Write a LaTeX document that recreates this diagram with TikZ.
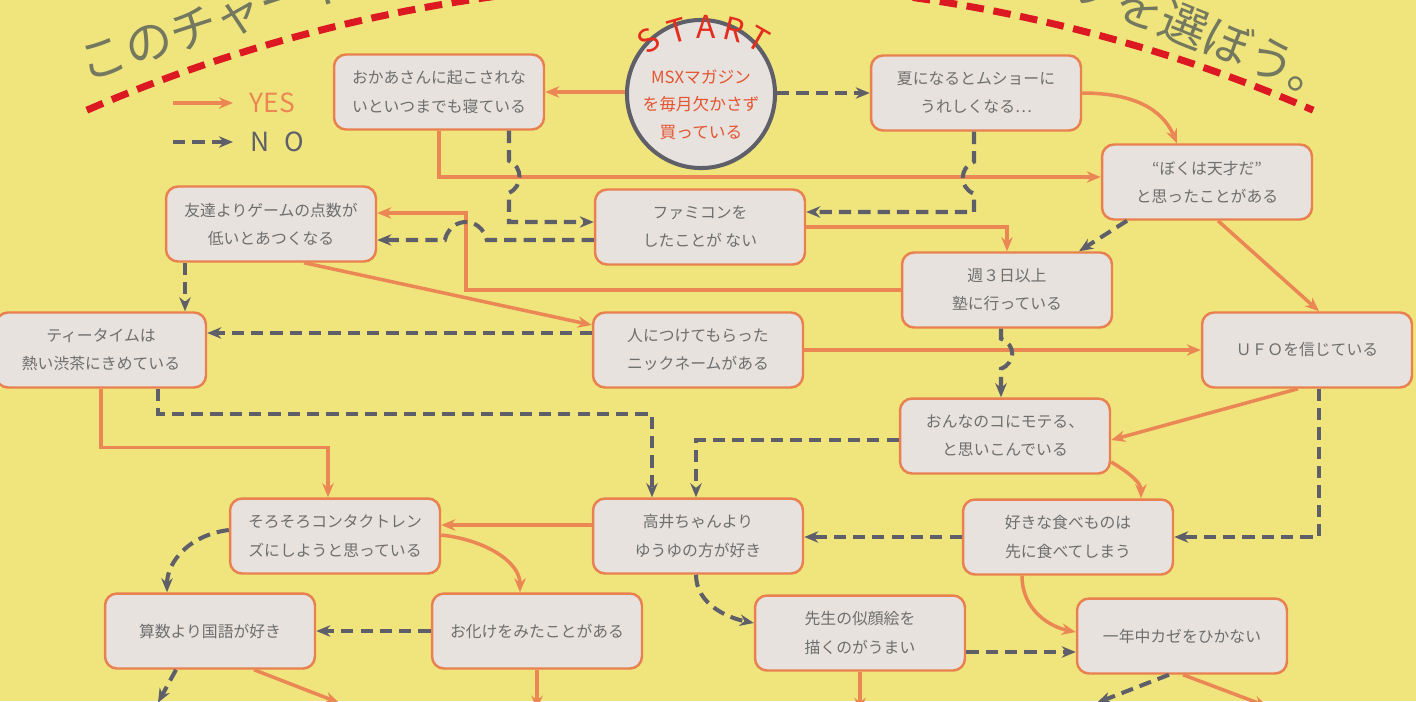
\documentclass[tikz,border=0pt]{standalone}
\usepackage{fontspec}
\setmainfont{Noto Sans CJK JP}
\usetikzlibrary{arrows.meta,calc}

\begin{document}
\begin{tikzpicture}[x=0.02cm, y=-0.02cm, >={Stealth[length=8pt, width=6.5pt]},
		box/.style={draw=boxline, line width=1.4pt, fill=boxfill, rounded corners=0.24cm, minimum width=4.2cm, minimum height=1.5cm, inner sep=2pt, align=center, text=boxtext, font=\fontsize{9}{16}\selectfont},
		startbox/.style={circle, draw=nocol, line width=2.3pt, fill=boxfill, minimum size=2.96cm, inner sep=0pt, align=center, text=circtext, font=\fontsize{9.5}{15.5}\selectfont},
		yes/.style={->, line width=2pt, draw=yescol},
		no/.style={->, line width=2.3pt, draw=nocol, dash pattern=on 7pt off 4pt},
		titletext/.style={text=titlecol, font=\fontsize{27}{27}\selectfont, inner sep=0pt},
		startchar/.style={text=startred, font=\fontsize{18}{18}\selectfont, inner sep=0pt},
		legendtext/.style={font=\fontsize{15}{15}\selectfont, inner sep=0pt, anchor=west, xshift=0.3cm}]
	\definecolor{bgcol}{RGB}{240,229,125}
	\definecolor{boxfill}{RGB}{231,226,221}
	\definecolor{boxline}{RGB}{232,128,80}
	\definecolor{boxtext}{RGB}{110,110,110}
	\definecolor{yescol}{RGB}{235,135,85}
	\definecolor{nocol}{RGB}{95,95,105}
	\definecolor{circtext}{RGB}{228,85,50}
	\definecolor{startred}{RGB}{228,45,30}
	\definecolor{redline}{RGB}{220,25,35}
	\definecolor{titlecol}{RGB}{115,120,95}
	\useasboundingbox (0,0) rectangle (1416,701);
	\clip (0,0) rectangle (1416,701);
	\fill[bgcol] (0,0) rectangle (1416,701);

	\draw[redline, line width=4pt, dash pattern=on 10pt off 5.5pt] plot[domain=-113.5:-66.5, samples=80] ({700+1537.9*cos(\x)}, {1520.5+1537.9*sin(\x)});
	\node[titletext, rotate=18] (titleleft) at (216,22) {このチャート};
	\node[titletext, rotate=-22] (titleright) at (1205,33) {ソを選ぼう。};

	\coordinate (yesleg) at (173,103);
	\coordinate (noleg) at (173,142);
	\draw[yes] (yesleg) -- ++(60,0) node[legendtext, text=yescol] (yeslabel) {YES};
	\draw[no] (noleg) -- ++(60,0) node[legendtext, text=nocol] (nolabel) {N\hspace{0.3cm}O};

	\node[startbox] (start) at (701,94) {\rule{0pt}{0.7cm}MSXマガジン\\を毎月欠かさず\\買っている};
	\foreach \ch/\x/\y/\a [count=\i] in {S/649/41/35, T/677/31/16, A/706/27/0, R/734/30/-14, T/758/39/-30}
		\node[startchar, rotate=\a] (st\i) at (\x,\y) {\ch};

	\node[box] (okaasan) at (439,92) {おかあさんに起こされな\\いといつまでも寝ている};
	\node[box] (natsu) at (976,93) {夏になるとムショーに\\うれしくなる…};
	\node[box] (tensai) at (1207,182) {“ぼくは天才だ”\\と思ったことがある};
	\node[box] (tomodachi) at (271,224) {友達よりゲームの点数が\\低いとあつくなる};
	\node[box] (famicom) at (700,227) {ファミコンを\\したことが ない};
	\node[box] (juku) at (1007,290) {週３日以上\\塾に行っている};
	\node[box] (nickname) at (698,350) {人につけてもらった\\ニックネームがある};
	\node[box] (teatime) at (101,350) {ティータイムは\\熱い渋茶にきめている};
	\node[box] (ufo) at (1307,350) {ＵＦＯを信じている};
	\node[box] (moteru) at (1005,436) {おんなのコにモテる、\\と思いこんでいる};
	\node[box] (contact) at (335,536) {そろそろコンタクトレン\\ズにしようと思っている};
	\node[box] (takai) at (698,536) {高井ちゃんより\\ゆうゆの方が好き};
	\node[box] (tabemono) at (1068,537) {好きな食べものは\\先に食べてしまう};
	\node[box] (sansu) at (210,631) {算数より国語が好き};
	\node[box] (obake) at (537,631) {お化けをみたことがある};
	\node[box] (nigaoe) at (860,633) {先生の似顔絵を\\描くのがうまい};
	\node[box] (kaze) at (1182,636) {一年中カゼをひかない};

	\draw[yes] (start.west |- okaasan.east) -- (okaasan.east);
	\draw[yes] (natsu.east) .. controls +(50,0) and +(-15,-35) .. ($(tensai.north)+(-30,0)$);
	\draw[yes] (okaasan.south) |- ($(tensai.west)+(0,-5)$);
	\draw[yes] (juku.west) -| ($(tomodachi.east)+(89,-11)$) -- ($(tomodachi.east)+(0,-11)$);
	\draw[yes] (famicom.east) -| (juku.north);
	\draw[yes] ($(tomodachi.south)+(33,0)$) -- ($(nickname.west)+(0,-25)$);
	\draw[yes] ($(tensai.south)+(11,0)$) -- ($(ufo.north)+(12,0)$);
	\draw[yes] (nickname.east) -- (ufo.west);
	\draw[yes] ($(ufo.south)+(-9,0)$) -- ($(moteru.east)+(0,4)$);
	\draw[yes] ($(moteru.east)+(0,26)$) .. controls +(20,12) and +(0,-15) .. ($(tabemono.north)+(73,0)$);
	\draw[yes] ($(takai.west)+(0,-11)$) -- ($(contact.east)+(0,-11)$);
	\draw[yes] ($(contact.east)+(0,-1)$) .. controls +(45,5) and +(0,-30) .. ($(obake.north)+(-17,0)$);
	\draw[yes] (teatime.south) -- ++(0,59) -| ($(contact.north)+(-7,0)$);
	\draw[yes] ($(tabemono.south)+(-46,0)$) .. controls +(0,35) and +(-25,-5) .. ($(kaze.west)+(0,-4)$);
	\draw[yes] ($(sansu.south)+(44,0)$) -- ++(85,33);
	\draw[yes] (obake.south) -- ++(0,40);
	\draw[yes] (nigaoe.south) -- ++(0,40);
	\draw[yes] ($(kaze.south)+(1,0)$) -- ++(85,32);

	\draw[no] (start.east |- natsu.west) -- (natsu.west);
	\draw[no] ($(okaasan.south)+(70,0)$) -- ++(0,30) .. controls +(14,6) and +(14,-6) .. ++(0,32) |- ($(famicom.west)+(0,-5)$);
	\draw[no] ($(natsu.south)+(-2,0)$) -- ++(0,30) .. controls +(-15,6) and +(-15,-6) .. ++(0,32) |- ($(famicom.east)+(0,-15)$);
	\draw[no] ($(tensai.south)+(-80,0)$) -- ($(juku.north)+(72,0)$);
	\draw[no] ($(famicom.west)+(0,13)$) -- ++(-107,0) .. controls +(-6,-24) and +(6,-24) .. ++(-42,0) -- ($(tomodachi.east)+(0,16)$);
	\draw[no] ($(tomodachi.south)+(-86,0)$) coordinate (t1) -- (t1 |- teatime.north);
	\draw[no] ($(nickname.west)+(0,-17)$) -- ($(teatime.east)+(0,-17)$);
	\draw[no] ($(teatime.south)+(57,0)$) -- ++(0,25) -| ($(takai.north)+(-46,0)$);
	\draw[no] ($(juku.south)+(-6,0)$) coordinate (j1) -- ++(0,10) .. controls +(15,6) and +(15,-6) .. ++(0,30) -- (j1 |- moteru.north);
	\draw[no] ($(ufo.south)+(12,0)$) |- (tabemono.east);
	\draw[no] ($(moteru.west)+(0,4)$) -| ($(takai.north)+(-2,0)$);
	\draw[no] (tabemono.west) -- (tabemono.west -| takai.east);
	\draw[no] ($(contact.west)+(0,-6)$) .. controls +(-40,5) and +(0,-30) .. ($(sansu.north)+(-43,0)$);
	\draw[no] ($(takai.south)+(-2,0)$) .. controls +(0,30) and +(-25,-5) .. ($(nigaoe.west)+(0,-10)$);
	\draw[no] (obake.west) -- (sansu.east);
	\draw[no] ($(nigaoe.east)+(0,19)$) coordinate (n1) -- (n1 -| kaze.west);
	\draw[no] ($(sansu.south)+(-34,0)$) -- ++(-18,33);
	\draw[no] ($(kaze.south)+(-13,0)$) -- ++(-72,28);
\end{tikzpicture}
\end{document}
